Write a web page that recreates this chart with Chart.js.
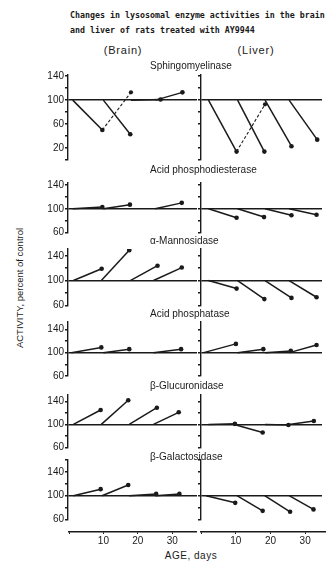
<!DOCTYPE html>
<html>
<head>
<meta charset="utf-8">
<script src="https://cdn.jsdelivr.net/npm/chart.js@4.4.0/dist/chart.umd.min.js"></script>
<style>
  body { margin: 0; background: #fff; }
  #page { position: relative; width: 326px; height: 561px; overflow: hidden;
          font-family: "Liberation Sans", Arial, sans-serif; color: #1a1a1a; }
  #page canvas { position: absolute; }
  .txt { position: absolute; white-space: nowrap; line-height: 12px; }
  .head { font-family: "DejaVu Sans Mono", monospace; font-weight: bold; font-size: 8.3px; left: 70px; }
  .organ { font-size: 11px; letter-spacing: 0.8px; transform: translateX(-50%); }
  .enzyme { font-size: 10px; left: 150px; }
  #yTitle { font-size: 9.5px; left: 20px; top: 288px; transform: translate(-50%, -50%) rotate(-90deg); }
  #xTitle { font-size: 10px; left: 191px; top: 550px; transform: translateX(-50%); letter-spacing: 0.5px; }
</style>
</head>
<body>
<div id="page">
  <div class="txt head" style="top:9px">Changes in lysosomal enzyme activities in the brain</div>
  <div class="txt head" style="top:24px">and liver of rats treated with AY9944</div>
  <div class="txt organ" style="left:123px; top:44px">(Brain)</div>
  <div class="txt organ" style="left:256px; top:44px">(Liver)</div>
  <div class="txt" id="yTitle">ACTIVITY, percent of control</div>
  <div class="txt" id="xTitle">AGE, days</div>
</div>
<script>
const CONTROL = 100;
const INK = "#1a1a1a";

const enzymes = ["Sphingomyelinase", "Acid phosphodiesterase", "α-Mannosidase",
                 "Acid phosphatase", "β-Glucuronidase", "β-Galactosidase"];

// each treatment segment runs from (start day, 100%) to (end day, value)
const brainStart = [
    [1.4, 10.5, 18.7, 26],
    [1.4, 10.5, 18.5, 25.9],
    [1.6, 9.9, 18.5, 25.4],
    [1.0, 10.5, 18.5, 25.4],
    [1.6, 9.9, 18.2, 25.4],
    [1.6, 10.1, 18.2, 26]
];
const brainEnd = [
    [10.2, 18.5, 27.5, 34],
    [10.2, 18.4, 26.5, 33.8],
    [10.0, 18.2, 26.6, 33.8],
    [9.9, 18.2, 26.5, 33.6],
    [9.7, 17.9, 26.4, 32.9],
    [9.7, 17.9, 26.2, 33.1]
];
const brainValue = [
    [50, 43, 101, 113],
    [103, 107, null, 110],
    [119, 149, 124, 121],
    [109, 106, null, 106],
    [125, 142, 129, 121],
    [111, 118, 103, 103]
];

const liverStart = [
    [2.2, 10.8, 18.9, 26],
    [2.2, 10.8, 18.9, 26],
    [2.2, 10.8, 18.9, 26],
    [0.8, 10.8, 18.9, 26.1],
    [2.2, 9.8, 18.9, 26],
    [1.5, 10.6, 18.8, 26]
];
const liverEnd = [
    [10.5, 18.7, 26.7, 34.3],
    [10.5, 18.6, 26.7, 34.1],
    [10.5, 18.7, 26.7, 34.1],
    [10.3, 18.4, 26.5, 34.1],
    [10.0, 18.2, 25.8, 33.3],
    [10.1, 18.2, 26.3, 33.2]
];
const liverValue = [
    [14, 14, 23, 34],
    [85, 86, 89, 90],
    [87, 70, 72, 73],
    [115, 106, 103, 113],
    [101, 86, 99, 106],
    [88, 74.5, 73, 77]
];

// dashed recovery lines: [from day, from value, to day, to value]
const brainRecovery = [[10.2, 50, 18.7, 113], null, null, null, null, null];
const liverRecovery = [[10.5, 14, 18.9, 93], null, null, null, null, null];

const yTickLabels = [20, 60, 100, 140];
const ageTicks = [10, 20, 30];

// layout of the six panels (page pixels of the axis ends, and axis ranges)
const panelTop = [75, 183, 249, 321.7, 395, 460];
const panelBottom = [160, 232.5, 305.3, 376, 447.5, 519.5];
const panelMin = [0, 60, 60, 60, 60, 60];
const panelMax = [142, 143.5, 151, 153, 151, 160];
const titleY = [66, 170, 241, 314, 386, 457];

const BRAIN_AXIS_X = 68, LIVER_AXIS_X = 201, RIGHT_EDGE = 326;
const PX_PER_DAY = 3.47;
const BRAIN_MAX_DAY = (LIVER_AXIS_X - BRAIN_AXIS_X) / PX_PER_DAY;
const LIVER_MAX_DAY = (RIGHT_EDGE - LIVER_AXIS_X) / 3.5;

Chart.defaults.font.family = '"Liberation Sans", Arial, sans-serif';
Chart.defaults.font.size = 10;
Chart.defaults.color = INK;

const page = document.getElementById("page");

function isOneOf(v, list){
    return list.some(t => Math.abs(v - t) < 1e-6);
}

function addCanvas(left, top, width, height){
    const c = document.createElement("canvas");
    c.width = width;
    c.height = height;
    c.style.left = left + "px";
    c.style.top = top + "px";
    c.style.width = width + "px";
    c.style.height = height + "px";
    page.appendChild(c);
    return c;
}

function buildSets(starts, ends, values, recovery){
    const sets = [];
    starts.forEach((s, i) => {
        if(values[i] === null) return;
        sets.push({
            data: [{x: s, y: CONTROL}, {x: ends[i], y: values[i]}],
            borderColor: INK,
            borderWidth: 1.5,
            pointRadius: [0, 2.3],
            pointBackgroundColor: INK,
            pointBorderWidth: 0
        });
    });
    if(recovery){
        sets.push({
            data: [{x: recovery[0], y: recovery[1]}, {x: recovery[2], y: recovery[3]}],
            borderColor: INK,
            borderWidth: 1.1,
            borderDash: [3, 2],
            pointRadius: [0, 2.1],
            pointBackgroundColor: INK,
            pointBorderWidth: 0
        });
    }
    return sets;
}

function panelChart(i, isBrain){
    const pad = 8;
    const canvasTop = Math.floor(panelTop[i]) - pad;
    const canvasBottom = Math.ceil(panelBottom[i]) + pad;
    const height = canvasBottom - canvasTop;
    const left = isBrain ? 0 : LIVER_AXIS_X - 5;
    const width = isBrain ? LIVER_AXIS_X : RIGHT_EDGE - left;
    const canvas = addCanvas(left, canvasTop, width, height);

    const datasets = isBrain
        ? buildSets(brainStart[i], brainEnd[i], brainValue[i], brainRecovery[i])
        : buildSets(liverStart[i], liverEnd[i], liverValue[i], liverRecovery[i]);

    new Chart(canvas, {
        type: "line",
        data: {datasets: datasets},
        options: {
            responsive: false,
            animation: false,
            events: [],
            layout: {padding: {
                top: panelTop[i] - canvasTop,
                bottom: canvasBottom - panelBottom[i],
                left: 0, right: 0
            }},
            plugins: {legend: {display: false}, tooltip: {enabled: false}},
            elements: {line: {tension: 0}},
            scales: {
                x: {type: "linear", display: false, min: 0, max: isBrain ? BRAIN_MAX_DAY : LIVER_MAX_DAY},
                y: {
                    min: panelMin[i],
                    max: panelMax[i],
                    afterFit: s => { s.width = isBrain ? BRAIN_AXIS_X : 5; },
                    border: {color: INK, width: 1.4},
                    grid: {
                        color: c => (c.tick && c.tick.value === CONTROL) ? INK : "rgba(0,0,0,0)",
                        lineWidth: 1.4,
                        tickColor: INK,
                        tickLength: 3
                    },
                    ticks: {
                        stepSize: 20,
                        includeBounds: false,
                        autoSkip: false,
                        display: isBrain,
                        padding: 1,
                        color: INK,
                        callback: v => isOneOf(v, yTickLabels) ? v : ""
                    }
                }
            }
        }
    });

    if(isBrain){
        const t = document.createElement("div");
        t.className = "txt enzyme";
        t.style.top = (titleY[i] - 6) + "px";
        t.textContent = enzymes[i];
        page.appendChild(t);
    }
}

function ageAxis(left, width, maxDay){
    const canvas = addCanvas(left, 512, width, 40);
    new Chart(canvas, {
        type: "line",
        data: {datasets: []},
        options: {
            responsive: false,
            animation: false,
            events: [],
            layout: {padding: 0},
            plugins: {legend: {display: false}, tooltip: {enabled: false}},
            scales: {
                y: {display: false, min: 0, max: 1},
                x: {
                    type: "linear",
                    min: 0,
                    max: maxDay,
                    afterFit: s => { s.height = 20; },
                    border: {color: INK, width: 1.4},
                    grid: {drawOnChartArea: false, tickLength: 2, tickColor: INK},
                    ticks: {
                        stepSize: 10,
                        includeBounds: false,
                        autoSkip: false,
                        maxRotation: 0,
                        padding: 1,
                        color: INK,
                        callback: v => isOneOf(v, ageTicks) ? v : ""
                    }
                }
            }
        }
    });
}

for(let i = 0; i < enzymes.length; i++){
    panelChart(i, true);
    panelChart(i, false);
}
ageAxis(BRAIN_AXIS_X, 197 - BRAIN_AXIS_X, (197 - BRAIN_AXIS_X) / PX_PER_DAY);
ageAxis(LIVER_AXIS_X - 1, RIGHT_EDGE - LIVER_AXIS_X + 1, (RIGHT_EDGE - LIVER_AXIS_X + 1) / 3.5);
</script>
</body>
</html>
